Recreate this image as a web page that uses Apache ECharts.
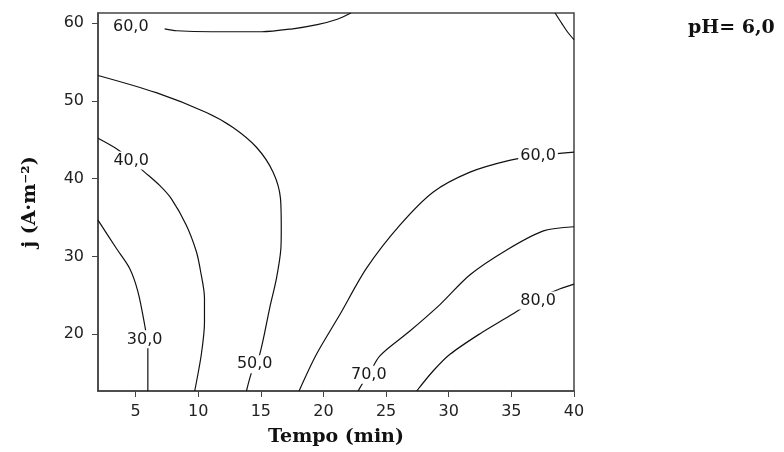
<!DOCTYPE html>
<html>
<head>
<meta charset="utf-8">
<script src="https://cdn.jsdelivr.net/npm/echarts@6/dist/echarts.min.js"></script>
<style>html,body{margin:0;padding:0;background:#fff}#c{width:784px;height:452px}</style>
</head>
<body>
<div id="c"></div>
<script>
// axis ticks
var xTicks = [5, 10, 15, 20, 25, 30, 35, 40];
var yTicks = [20, 30, 40, 50, 60];

// contour lines [Tempo (min), j (A·m-2)]
var c30 = [[2, 34.66], [3.46, 31.05], [4.52, 28.49], [5.18, 25.52], [5.72, 21.25], [5.98, 18.28], [5.98, 12.7]];
var c40 = [[2, 45.19], [3.59, 43.73], [4.65, 42.32], [5.72, 40.84], [6.92, 39.13], [7.85, 37.43], [9.05, 34.02], [9.85, 30.63], [10.2, 28.0], [10.5, 24.66], [10.5, 21.5], [10.25, 17.42], [9.72, 12.7]];
var c50 = [[2, 53.27], [6.65, 51.06], [10.65, 48.51], [12.78, 46.59], [14.65, 44.04], [15.98, 40.84], [16.57, 37.43], [16.63, 33.6], [16.6, 31.05], [16.25, 27.22], [15.71, 23.4], [14.91, 17.42], [14.33, 15.45], [13.85, 12.7]];
var c60top = [[7.32, 59.27], [8.28, 59.02], [11.08, 58.89], [15.07, 58.89], [17.55, 59.27], [19.5, 59.8], [21.1, 60.5], [22.19, 61.3]];
var c60corner = [[38.49, 61.3], [39.05, 59.9], [39.53, 58.76], [40, 57.87]];
var c60right = [[18.05, 12.7], [19.44, 17.42], [21.31, 22.53], [23.44, 28.49], [26.1, 34.02], [28.77, 38.29], [31.7, 40.84], [34.76, 42.32], [37.13, 42.96], [40, 43.4]];
var c70 = [[40, 33.82], [37.56, 33.28], [34.63, 30.83], [31.7, 27.64], [29.3, 23.81], [26.9, 20.41], [24.5, 17.22], [23.62, 14.79], [23.17, 13.8], [22.77, 12.7]];
var c80 = [[40, 26.45], [38.9, 25.85], [37.13, 24.62], [34.9, 22.4], [32.5, 20.07], [30.1, 17.42], [28.77, 15.3], [27.44, 12.7]];

// contour labels [x, y, text]
var contourLabels = [
  [5.72, 19.34, '30,0'],
  [4.65, 42.32, '40,0'],
  [14.51, 16.14, '50,0'],
  [4.62, 59.57, '60,0'],
  [37.13, 42.96, '60,0'],
  [23.62, 14.79, '70,0'],
  [37.13, 24.32, '80,0']
];

var lines = [c30, c40, c50, c60top, c60corner, c60right, c70, c80];

var chart = echarts.init(document.getElementById('c'));
var series = lines.map(function (d) {
  return {
    type: 'line', data: d, showSymbol: false, smooth: 0.3, z: 2,
    lineStyle: { color: '#111', width: 1.2 }, silent: true, animation: false
  };
});
series.push({
  type: 'scatter', data: contourLabels, symbolSize: 0, z: 10, animation: false,
  itemStyle: { opacity: 1 },
  label: {
    show: true, position: 'inside', formatter: function (p) { return p.value[2]; },
    fontFamily: 'DejaVu Sans', fontSize: 16, color: '#1a1a1a',
    backgroundColor: '#fff', padding: [1, 2]
  }
});

chart.setOption({
  animation: false,
  grid: { left: 98, right: 210, top: 13, bottom: 58, show: true, borderColor: '#444', borderWidth: 1.5 },
  xAxis: {
    type: 'value', min: 2, max: 40,
    name: 'Tempo (min)', nameLocation: 'middle', nameGap: 37,
    nameTextStyle: { fontFamily: 'DejaVu Serif', fontWeight: 'bold', fontSize: 19, color: '#111' },
    axisLine: { show: true, lineStyle: { color: '#444', width: 1.5 } },
    axisTick: { show: true, length: 6, customValues: xTicks, lineStyle: { color: '#444' } },
    axisLabel: { customValues: xTicks, margin: 13, fontFamily: 'DejaVu Sans', fontSize: 16, color: '#222' },
    splitLine: { show: false }
  },
  yAxis: {
    type: 'value', min: 12.7, max: 61.3,
    name: 'j (A·m⁻²)', nameLocation: 'middle', nameGap: 58,
    nameTextStyle: { fontFamily: 'DejaVu Serif', fontWeight: 'bold', fontSize: 19, color: '#111' },
    axisLine: { show: true, lineStyle: { color: '#444', width: 1.5 } },
    axisTick: { show: true, length: 6, customValues: yTicks, lineStyle: { color: '#444' } },
    axisLabel: { customValues: yTicks, margin: 14, fontFamily: 'DejaVu Sans', fontSize: 16, color: '#222' },
    splitLine: { show: false }
  },
  graphic: [{
    type: 'text', left: 688, top: 19,
    style: { text: 'pH= 6,0', font: 'bold 19px "DejaVu Serif"', fill: '#111' }
  }],
  series: series
});
</script>
</body>
</html>
